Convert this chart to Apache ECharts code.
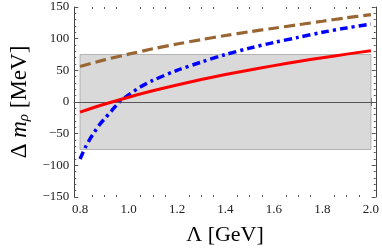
<!DOCTYPE html>
<html><head><meta charset="utf-8">
<script src="https://cdn.jsdelivr.net/npm/echarts@6/dist/echarts.min.js"></script>
<style>html,body{margin:0;padding:0;background:#fff}#c{width:382px;height:251px}</style>
</head><body><div id="c"></div>
<script>
// Data
const redX   = [0.8,0.9,1.0,1.1,1.2,1.3,1.4,1.5,1.6,1.7,1.8,1.9,2.0];
const redY   = [-16,-3.6,7.6,17.7,26.9,35.4,43.3,50.6,57.4,63.9,69.9,75.6,81];
const brownX = [0.8,0.9,1.0,1.1,1.2,1.3,1.4,1.5,1.6,1.7,1.8,1.9,2.0];
const brownY = [56,66.5,75.5,84,91.5,98.5,105,111,116.5,122,127.5,133,138];
const blueX  = [0.8,0.82,0.84,0.86,0.88,0.9,0.93,0.96,1.0,1.05,1.1,1.2,1.3,1.4,1.5,1.6,1.7,1.8,1.9,2.0];
const blueY  = [-90,-73,-59,-47,-36,-27,-14,-1,11,24,34,50,63,75,85,94,102,110,117,123];
const bandX  = [0.8, 2.0];
const bandY  = [-75, 75];
const xTicks = [0.8,1.0,1.2,1.4,1.6,1.8,2.0];
const xMinorTicks = [0.85,0.9,0.95,1.05,1.1,1.15,1.25,1.3,1.35,1.45,1.5,1.55,1.65,1.7,1.75,1.85,1.9,1.95];
const yTicks = [-150,-100,-50,0,50,100,150];

const pairs = (xs, ys) => xs.map((x, i) => [x, ys[i]]);
const FONT = 'Liberation Serif';
const XMIN = 0.776, XMAX = 2.02;
const frame = {show:true, lineStyle:{color:'#444', width:1}};

function xAxisDef(pos, showLabel, ticks, len, showLine) {
  return {
    type:'value', position:pos, min:XMIN, max:XMAX,
    axisLine: showLine ? frame : {show:false},
    splitLine:{show:false},
    axisTick:{show:true, inside:true, length:len, customValues:ticks, lineStyle:{color:'#555', width:1}},
    axisLabel:{show:showLabel, customValues:ticks, fontFamily:FONT, fontSize:13, color:'#222', margin:6,
      formatter:v => v.toFixed(1)},
  };
}
function yAxisDef(pos, showLabel) {
  return {
    type:'value', position:pos, min:yTicks[0], max:yTicks[yTicks.length-1], interval:50,
    axisLine: frame, splitLine:{show:false},
    axisTick:{show:true, inside:true, length:4, lineStyle:{color:'#555', width:1}},
    minorTick:{show:true, splitNumber:5, length:2, lineStyle:{color:'#555', width:1}},
    axisLabel:{show:showLabel, fontFamily:FONT, fontSize:13, color:'#222', margin:5,
      formatter:v => v < 0 ? '\u2212' + (-v) : String(v)},
  };
}

const xAxes = [
  xAxisDef('bottom', true, xTicks, 4, true),
  xAxisDef('top', false, xTicks, 4, true),
  xAxisDef('bottom', false, xMinorTicks, 2, false),
  xAxisDef('top', false, xMinorTicks, 2, false),
];
xAxes[0].name = '\u039B [GeV]';
xAxes[0].nameLocation = 'middle';
xAxes[0].nameGap = 27;
xAxes[0].nameTextStyle = {fontFamily:FONT, fontSize:22, color:'#000'};

const yAxes = [yAxisDef('left', true), yAxisDef('right', false)];
yAxes[0].name = '\u0394 {i|m}{s|\u03C1} [MeV]';
yAxes[0].nameLocation = 'middle';
yAxes[0].nameRotate = 90;
yAxes[0].nameGap = 41;
yAxes[0].nameTextStyle = {fontFamily:FONT, fontSize:23, color:'#000',
  rich:{
    i:{fontFamily:FONT, fontStyle:'italic', fontSize:23, color:'#000'},
    s:{fontFamily:FONT, fontStyle:'italic', fontSize:15, color:'#000', padding:[9,0,0,0]}
  }};

const chart = echarts.init(document.getElementById('c'), null, {renderer:'canvas'});
chart.setOption({
  animation:false,
  grid:{left:71, right:4, top:7, bottom:54, containLabel:false},
  xAxis: xAxes,
  yAxis: yAxes,
  series:[
    {type:'line', data:[], xAxisIndex:0, yAxisIndex:0, silent:true,
     markArea:{silent:true, itemStyle:{color:'#d9d9d9', borderColor:'#b4b4b4', borderWidth:1},
       data:[[{coord:[bandX[0], bandY[1]]},{coord:[bandX[1], bandY[0]]}]]},
     markLine:{silent:true, symbol:'none', label:{show:false},
       lineStyle:{color:'#555', width:1, type:'solid'}, data:[{yAxis:0}]}},
    {type:'line', name:'brown', data:pairs(brownX, brownY), smooth:0.3, showSymbol:false,
     lineStyle:{color:'#996633', width:3.2, type:[11,5], cap:'butt'}, z:3},
    {type:'line', name:'blue', data:pairs(blueX, blueY), smooth:0.3, showSymbol:false,
     lineStyle:{color:'#0000ff', width:3.5, type:[8,4,3,4], cap:'butt'}, z:4},
    {type:'line', name:'red', data:pairs(redX, redY), smooth:0.3, showSymbol:false,
     lineStyle:{color:'#ff0000', width:3, type:'solid'}, z:5},
  ]
});
</script></body></html>
